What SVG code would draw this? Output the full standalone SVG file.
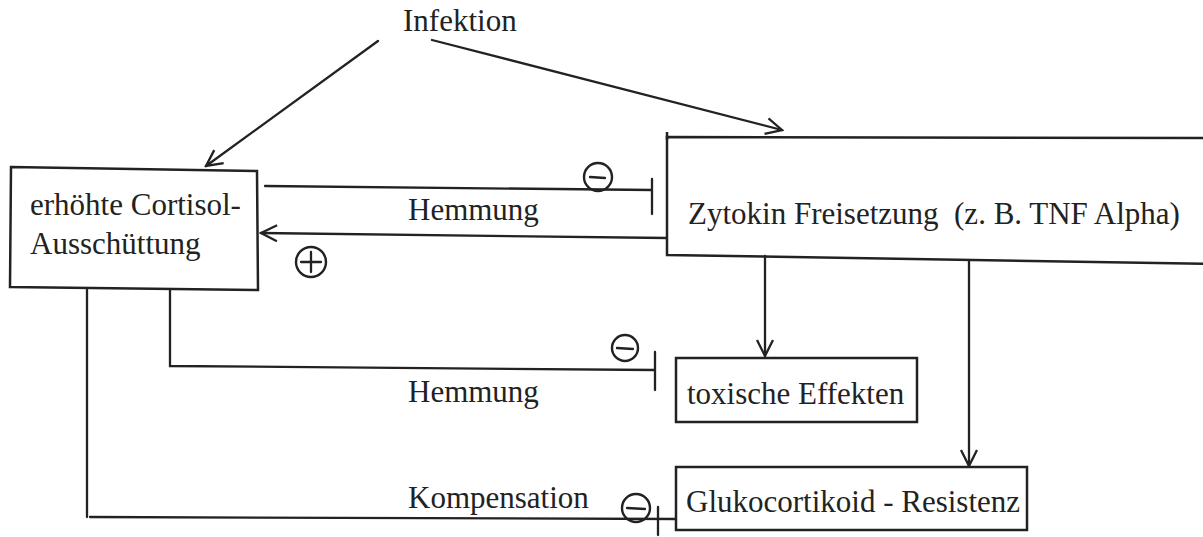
<svg xmlns="http://www.w3.org/2000/svg" width="1203" height="537" viewBox="0 0 1203 537">
<defs>
<style>
.t{font-family:"Liberation Serif","Times New Roman",serif;font-size:31px;fill:#222;white-space:pre}
.ln{stroke:#222;stroke-width:2.3;fill:none;stroke-linecap:round}
.box{stroke:#222;stroke-width:2.5;fill:none}
.sym{stroke:#222;stroke-width:2.4;fill:none}
</style>
<marker id="arr" viewBox="0 0 20 20" refX="18" refY="10" markerWidth="20" markerHeight="20" markerUnits="userSpaceOnUse" orient="auto">
<path d="M2,2 L18,10 L2,18" fill="none" stroke="#222" stroke-width="2.3"/>
</marker>
</defs>
<rect width="1203" height="537" fill="#fff"/>

<g id="infektion"><text class="t" x="403" y="31">Infektion</text></g>

<g id="cortisol">
<path class="box" d="M11,167 L257,171 L258,290 L10,287 Z"/>
<text class="t" x="30" y="215">erhöhte Cortisol-</text>
<text class="t" x="30" y="254">Ausschüttung</text>
</g>

<g id="zytokin">
<path class="box" d="M1215,138 L667,137 L667,255 L1215,264"/>
<path class="box" d="M667,132 L667,140"/>
<text class="t" x="688" y="224">Zytokin Freisetzung  (z. B. TNF Alpha)</text>
</g>

<g id="toxisch">
<rect class="box" x="676" y="358" width="241" height="64"/>
<text class="t" x="687" y="404">toxische Effekten</text>
</g>

<g id="gluko">
<rect class="box" x="676" y="467" width="351" height="63"/>
<text class="t" x="686" y="512">Glukocortikoid - Resistenz</text>
</g>

<g id="connectors">
<line class="ln" x1="378" y1="41" x2="206" y2="166" marker-end="url(#arr)"/>
<line class="ln" x1="432" y1="40" x2="782" y2="130" marker-end="url(#arr)"/>

<line class="ln" x1="265" y1="186" x2="652" y2="190"/>
<line class="ln" x1="652" y1="179" x2="652" y2="214"/>
<circle class="sym" cx="598" cy="177" r="14"/>
<line class="ln" x1="590" y1="177" x2="605" y2="178" stroke-width="3.5"/>
<text class="t" x="408" y="220">Hemmung</text>

<line class="ln" x1="667" y1="238" x2="261" y2="233" marker-end="url(#arr)"/>
<circle class="sym" cx="311" cy="262" r="15"/>
<line class="ln" x1="301" y1="262" x2="321" y2="262"/>
<line class="ln" x1="311" y1="252" x2="311" y2="272"/>

<polyline class="ln" points="170,290 170,366 655,370"/>
<line class="ln" x1="655" y1="352" x2="655" y2="390"/>
<circle class="sym" cx="625" cy="348" r="13"/>
<line class="ln" x1="617" y1="348" x2="633" y2="349" stroke-width="3.5"/>
<text class="t" x="408" y="402">Hemmung</text>

<polyline class="ln" points="87,290 87,517"/>
<line class="ln" x1="90" y1="517" x2="676" y2="519"/>
<line class="ln" x1="658" y1="507" x2="658" y2="535"/>
<circle class="sym" cx="636" cy="508" r="14"/>
<line class="ln" x1="627" y1="508" x2="645" y2="509" stroke-width="3.5"/>
<text class="t" x="408" y="508">Kompensation</text>

<line class="ln" x1="765" y1="256" x2="765" y2="356" marker-end="url(#arr)"/>
<line class="ln" x1="969" y1="261" x2="969" y2="466" marker-end="url(#arr)"/>
</g>
</svg>
